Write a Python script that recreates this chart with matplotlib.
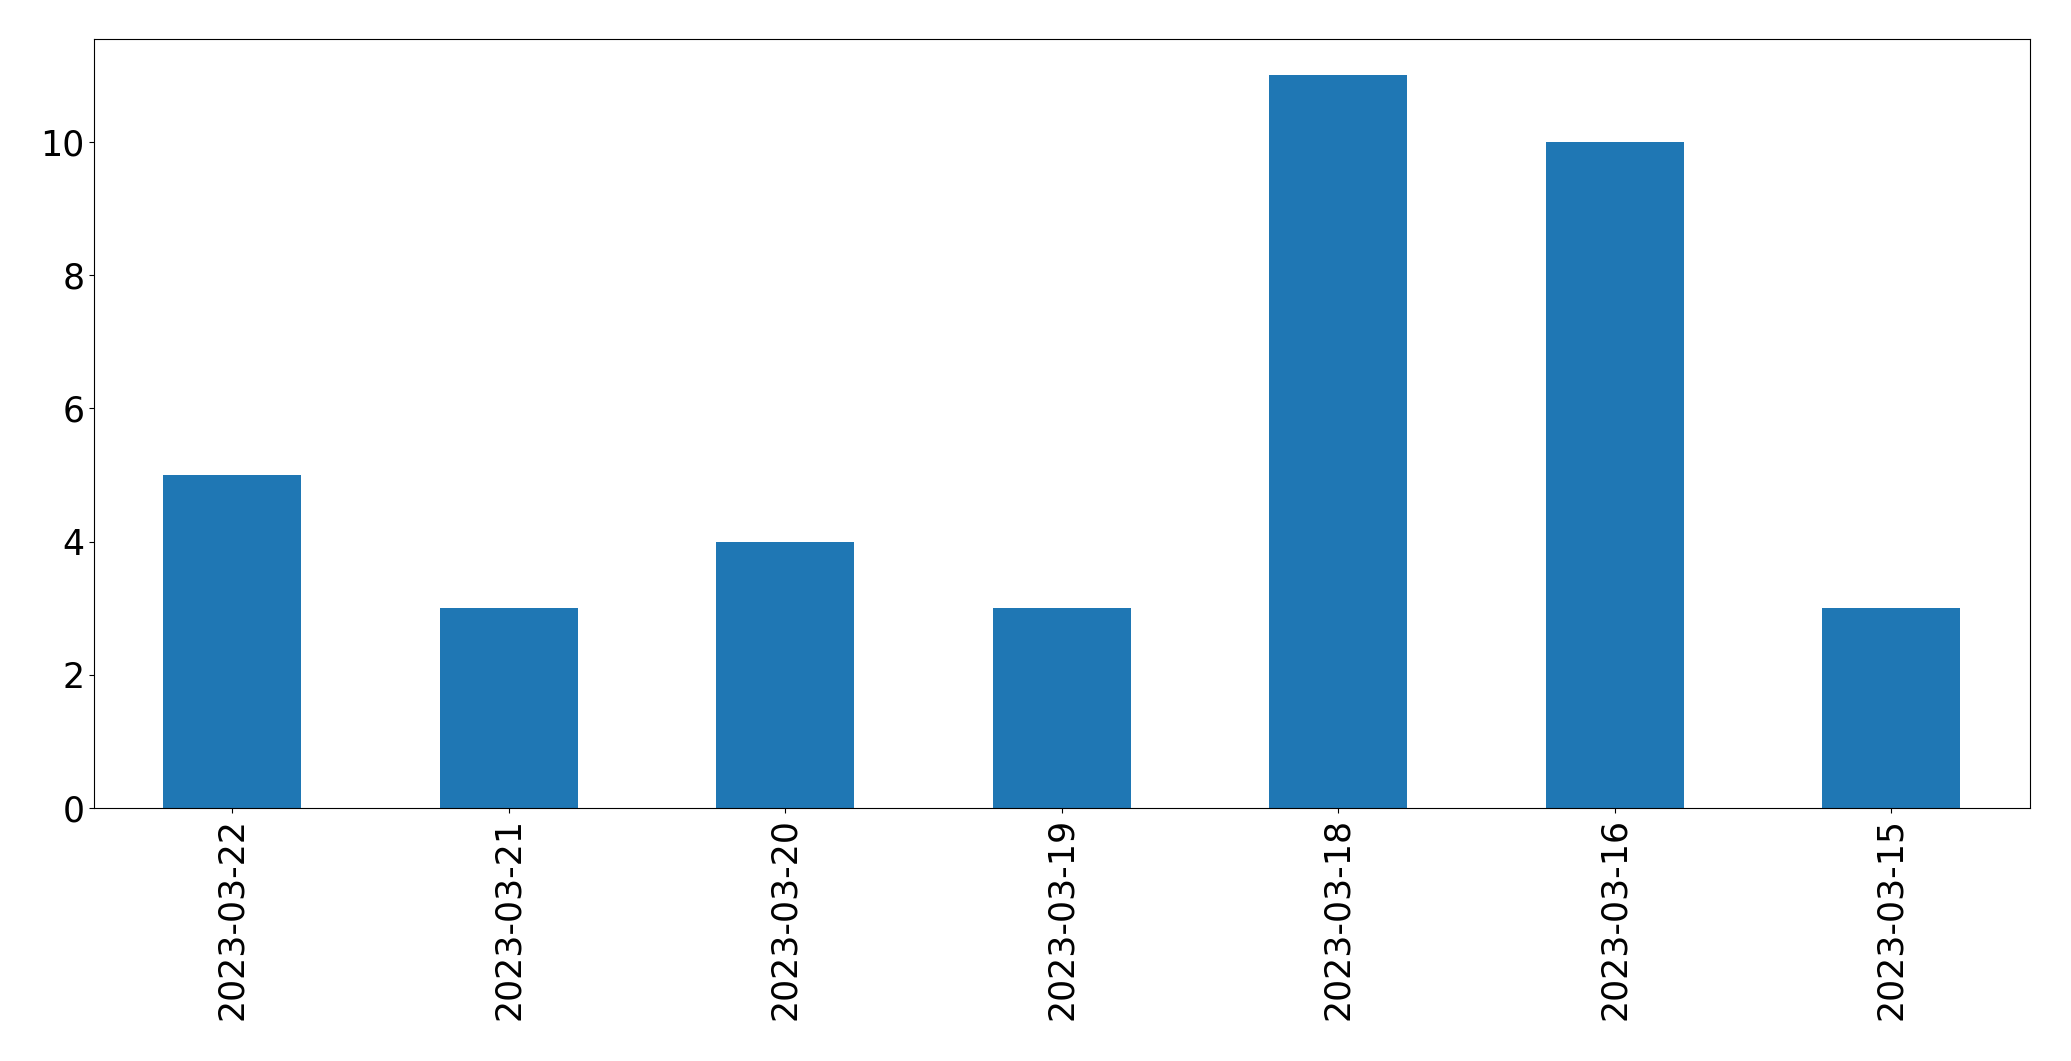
import pandas as pd
import matplotlib
matplotlib.use('Agg')
import matplotlib.pyplot as plt

dates = ['2023-03-22', '2023-03-21', '2023-03-20', '2023-03-19',
         '2023-03-18', '2023-03-16', '2023-03-15']
counts = [5, 3, 4, 3, 11, 10, 3]

s = pd.Series(counts, index=dates)

fig = plt.figure(figsize=(20.71, 10.61), dpi=100)
ax = fig.add_axes([0.0454, 0.2385, 0.9346, 0.7250])
s.plot(kind='bar', ax=ax, fontsize=25)

fig.savefig('out.png', dpi=100)
